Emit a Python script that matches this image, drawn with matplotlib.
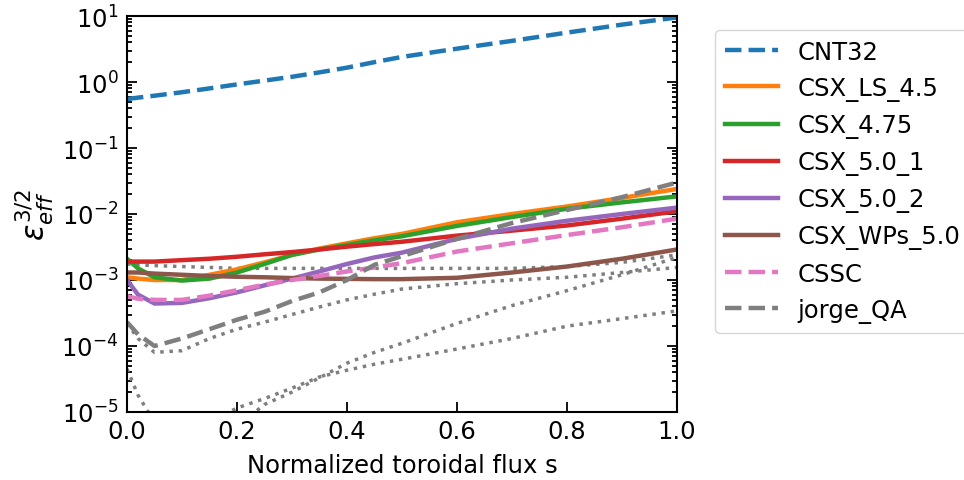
import matplotlib
matplotlib.use("Agg")
import matplotlib.pyplot as plt
import numpy as np

# normalized toroidal flux grid shared by every curve
s = [0, 0.02, 0.05, 0.1, 0.15, 0.2, 0.25, 0.3, 0.35, 0.4, 0.45, 0.5,
     0.6, 0.7, 0.8, 0.9, 1.0]

cnt32 = [0.55, 0.58, 0.62, 0.7, 0.8, 0.92, 1.05, 1.2, 1.4, 1.65, 2.0, 2.4,
         3.2, 4.2, 5.6, 7.4, 9.5]
csx_ls_45 = [1.1e-3, 1.05e-3, 1.0e-3, 1.0e-3, 1.2e-3, 1.45e-3, 1.85e-3, 2.4e-3,
             3.0e-3, 3.6e-3, 4.3e-3, 5.0e-3, 7.5e-3, 1.0e-2, 1.3e-2, 1.75e-2, 2.4e-2]
csx_475 = [2.1e-3, 1.5e-3, 1.1e-3, 9.8e-4, 1.05e-3, 1.3e-3, 1.75e-3, 2.4e-3,
           2.9e-3, 3.4e-3, 4.0e-3, 4.6e-3, 6.6e-3, 9.0e-3, 1.2e-2, 1.5e-2, 1.85e-2]
csx_50_1 = [1.9e-3, 1.9e-3, 1.9e-3, 2.0e-3, 2.1e-3, 2.25e-3, 2.45e-3, 2.65e-3,
            2.9e-3, 3.2e-3, 3.5e-3, 3.8e-3, 4.7e-3, 5.6e-3, 6.7e-3, 8.5e-3, 1.1e-2]
csx_50_2 = [1.0e-3, 6.0e-4, 4.4e-4, 4.5e-4, 5.3e-4, 6.5e-4, 8.3e-4, 1.05e-3,
            1.35e-3, 1.75e-3, 2.2e-3, 2.6e-3, 4.2e-3, 6.0e-3, 7.9e-3, 1.0e-2, 1.25e-2]
csx_wps_50 = [1.3e-3, 1.3e-3, 1.25e-3, 1.2e-3, 1.15e-3, 1.12e-3, 1.1e-3, 1.07e-3,
              1.05e-3, 1.04e-3, 1.03e-3, 1.03e-3, 1.08e-3, 1.3e-3, 1.6e-3, 2.1e-3, 2.9e-3]
cssc = [5.7e-4, 5.2e-4, 5.0e-4, 5.0e-4, 5.8e-4, 7.0e-4, 8.5e-4, 1.0e-3,
        1.15e-3, 1.35e-3, 1.55e-3, 1.8e-3, 2.7e-3, 3.6e-3, 4.8e-3, 6.3e-3, 8.5e-3]
jorge_qa = [2.3e-4, 1.5e-4, 1.0e-4, 1.3e-4, 1.8e-4, 2.5e-4, 3.3e-4, 4.8e-4,
            6.5e-4, 1.0e-3, 1.7e-3, 2.3e-3, 4.2e-3, 7.3e-3, 1.15e-2, 1.8e-2, 3.0e-2]

# unlabelled reference configurations (gray dotted)
ref_a = [1.75e-3, 1.7e-3, 1.65e-3, 1.6e-3, 1.55e-3, 1.5e-3, 1.5e-3, 1.5e-3,
         1.5e-3, 1.5e-3, 1.5e-3, 1.5e-3, 1.5e-3, 1.5e-3, 1.6e-3, 1.85e-3, 2.4e-3]
ref_b = [2.2e-4, 1.3e-4, 8.0e-5, 8.5e-5, 1.3e-4, 1.8e-4, 2.3e-4, 3.0e-4,
         3.9e-4, 5.0e-4, 6.1e-4, 7.3e-4, 8.8e-4, 1.0e-3, 1.1e-3, 1.3e-3, 1.55e-3]
ref_c = [4.5e-5, 1.8e-5, 7.0e-6, 3.0e-6, 3.0e-6, 6.0e-6, 1.3e-5, 2.0e-5,
         3.3e-5, 5.5e-5, 8.0e-5, 1.1e-4, 2.2e-4, 4.1e-4, 6.9e-4, 1.2e-3, 2.2e-3]
ref_d = [2.0e-6, 2.0e-6, 2.0e-6, 3.0e-6, 7.0e-6, 1.15e-5, 1.6e-5, 2.3e-5,
         3.4e-5, 4.3e-5, 5.3e-5, 6.3e-5, 9.0e-5, 1.3e-4, 2.0e-4, 2.6e-4, 3.4e-4]

series = [
    ("CNT32", cnt32, "tab:blue", "--"),
    ("CSX_LS_4.5", csx_ls_45, "tab:orange", "-"),
    ("CSX_4.75", csx_475, "tab:green", "-"),
    ("CSX_5.0_1", csx_50_1, "tab:red", "-"),
    ("CSX_5.0_2", csx_50_2, "tab:purple", "-"),
    ("CSX_WPs_5.0", csx_wps_50, "tab:brown", "-"),
    ("CSSC", cssc, "tab:pink", "--"),
    ("jorge_QA", jorge_qa, "tab:gray", "--"),
]

plt.rcParams["font.size"] = 17.5

fig = plt.figure(figsize=(9.64, 4.81), dpi=100)
ax = fig.add_axes([127 / 964, 1 - 413 / 481, 550 / 964, 396 / 481])

for ref in (ref_a, ref_b, ref_c, ref_d):
    ax.plot(s, ref, color="tab:gray", ls=":", lw=2.5)
for name, vals, col, ls in series:
    ax.plot(s, vals, color=col, ls=ls, lw=3.2, label=name)

ax.set_yscale("log")
ax.set_xlim(0, 1)
ax.set_ylim(1e-5, 1e1)
ax.set_xlabel("Normalized toroidal flux s", labelpad=7)
ax.set_ylabel(r"$\epsilon_{eff}^{3/2}$", fontsize=22, labelpad=4)
ax.tick_params(which="both", direction="in", right=True, width=1.3)
ax.tick_params(which="major", length=7)
ax.tick_params(which="minor", length=3.5)
ax.tick_params(axis="x", pad=5)
ax.tick_params(axis="y", pad=6)
for sp in ax.spines.values():
    sp.set_linewidth(1.5)

fig.legend(loc="upper left", bbox_to_anchor=(715 / 964, 1 - 31 / 481),
           borderaxespad=0, handlelength=2.2, labelspacing=0.5)

fig.savefig("out.png", dpi=100)
